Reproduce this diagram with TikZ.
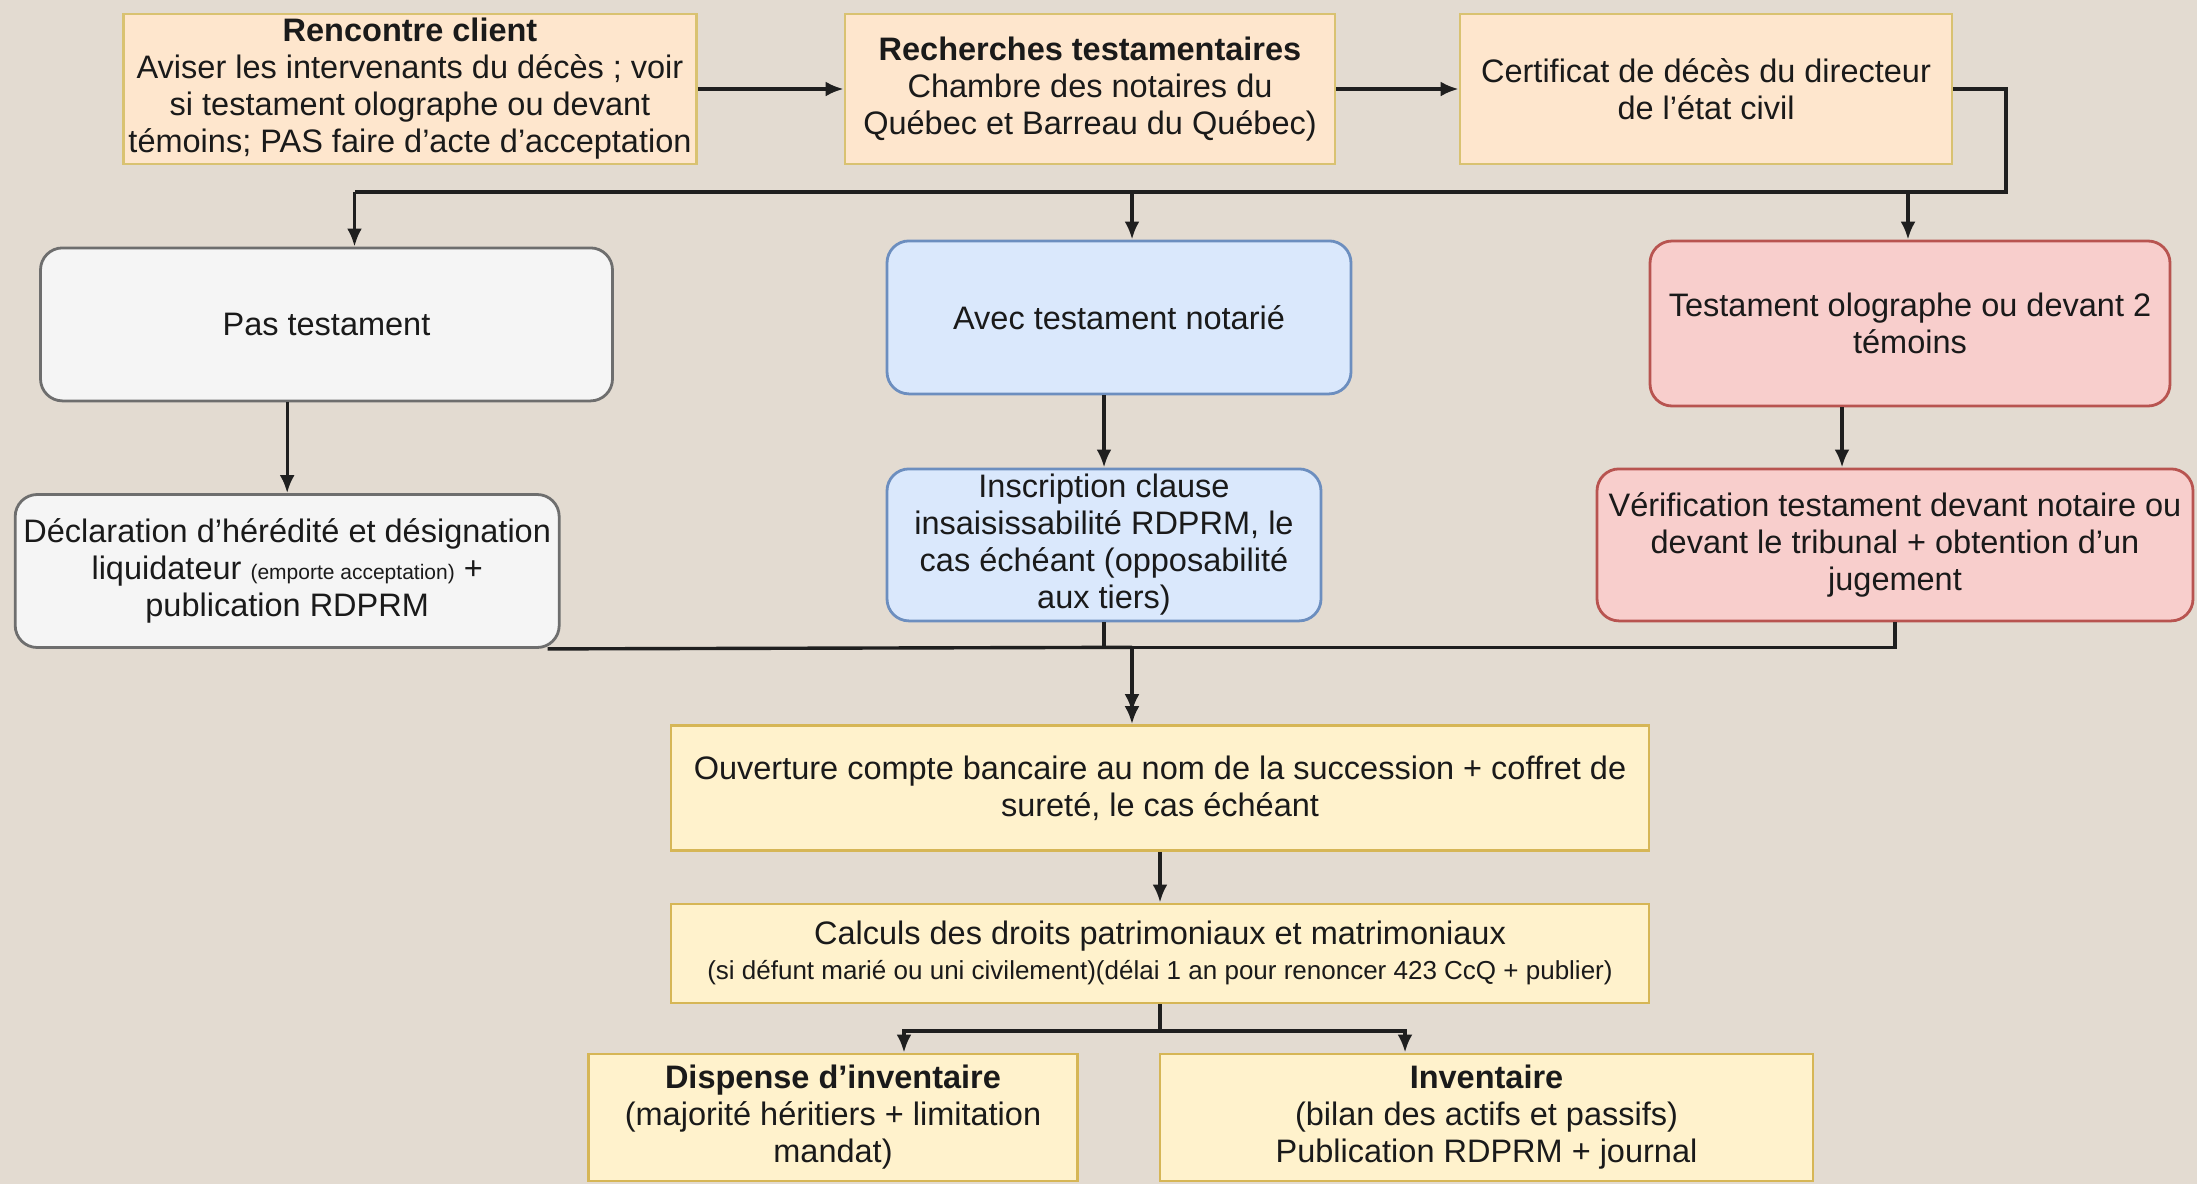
\documentclass[tikz,border=0pt]{standalone}
\usepackage{fontspec}
\setmainfont{Liberation Sans}
\usetikzlibrary{arrows.meta,calc}
\definecolor{bgc}{HTML}{E3DBD1}
\definecolor{peachf}{HTML}{FEE6CD}
\definecolor{peachd}{HTML}{D9C271}
\definecolor{greyf}{HTML}{F5F5F5}
\definecolor{greyd}{HTML}{6E6E6E}
\definecolor{bluef}{HTML}{DAE8FC}
\definecolor{blued}{HTML}{6C8EBF}
\definecolor{redf}{HTML}{F8CECC}
\definecolor{redd}{HTML}{B85450}
\definecolor{yelf}{HTML}{FFF2CC}
\definecolor{yeld}{HTML}{D6B656}
\definecolor{txt}{HTML}{1A1A1A}
\begin{document}
\begin{tikzpicture}[x=1pt,y=-1pt,
  base/.style={line width=2.8pt, align=center, inner sep=0pt, text=txt,
    font=\fontsize{32.5}{37}\selectfont},
  topbox/.style={base, draw=peachd, fill=peachf},
  greybox/.style={base, draw=greyd, fill=greyf, rounded corners=22pt},
  bluebox/.style={base, draw=blued, fill=bluef, rounded corners=22pt},
  redbox/.style={base, draw=redd, fill=redf, rounded corners=22pt},
  yelbox/.style={base, draw=yeld, fill=yelf},
  conn/.style={line width=3.4pt, draw=black!88},
  arr/.style={conn, -{Latex[length=18pt,width=15pt]}}
]
\fill[bgc] (0,0) rectangle (2197,1184);
\useasboundingbox (0,0) rectangle (2197,1184);

% top row
\node[topbox, minimum width=573pt, minimum height=150pt] (b1) at (410,89)
  {\textbf{Rencontre client}\\Aviser les intervenants du décès ; voir\\si testament olographe ou devant\\témoins; PAS faire d'acte d'acceptation};
\node[topbox, minimum width=490pt, minimum height=150pt] (b2) at (1090,89)
  {\textbf{Recherches testamentaires}\\Chambre des notaires du\\Québec et Barreau du Québec)};
\node[topbox, minimum width=492pt, minimum height=150pt] (b3) at (1706,89)
  {Certificat de décès du directeur\\de l'état civil};

% second row
\node[greybox, minimum width=572pt, minimum height=153pt] (pas) at (326.5,324.4) {Pas testament};
\node[bluebox, minimum width=464pt, minimum height=153pt] (avec) at (1119,317.4) {Avec testament notarié};
\node[redbox, minimum width=520pt, minimum height=165pt] (test) at (1910,323.5)
  {Testament olographe ou devant 2\\témoins};

% third row
\node[greybox, minimum width=544pt, minimum height=153pt] (decl) at (287.2,571)
  {Déclaration d'hérédité et désignation\\liquidateur {\fontsize{21}{24}\selectfont (emporte acceptation)} +\\publication RDPRM};
\node[bluebox, minimum width=434pt, minimum height=152pt] (inscr) at (1104,544.9)
  {Inscription clause\\insaisissabilité RDPRM, le\\cas échéant (opposabilité\\aux tiers)};
\node[redbox, minimum width=596pt, minimum height=152pt] (verif) at (1895,544.9)
  {Vérification testament devant notaire ou\\devant le tribunal + obtention d'un\\jugement};

% lower part
\node[yelbox, minimum width=978pt, minimum height=125pt] (ouv) at (1160,788)
  {Ouverture compte bancaire au nom de la succession + coffret de\\sureté, le cas échéant};
\node[yelbox, minimum width=978pt, minimum height=99pt] (calc) at (1160,953.4)
  {Calculs des droits patrimoniaux et matrimoniaux\\[-2pt]{\fontsize{26}{28}\selectfont (si défunt marié ou uni civilement)(délai 1 an pour renoncer 423 CcQ + publier)}};
\node[yelbox, minimum width=489pt, minimum height=127pt] (disp) at (833,1117.4)
  {\textbf{Dispense d'inventaire}\\(majorité héritiers + limitation\\mandat)};
\node[yelbox, minimum width=653pt, minimum height=127pt] (inv) at (1486.5,1117.4)
  {\textbf{Inventaire}\\(bilan des actifs et passifs)\\Publication RDPRM + journal};

% coordinates for connector routing
\coordinate (r1) at (2006,192);
\coordinate (bl) at (354.5,192);
\coordinate (bm) at (1132,192);
\coordinate (br) at (1908,192);
\coordinate (vx) at (1842,0);
\coordinate (mx) at (1132,647.3);
\coordinate (sl) at (904,1031);
\coordinate (sr) at (1405,1031);

% top row arrows
\draw[arr] (b1.east) -- (b2.west);
\draw[arr] (b2.east) -- (b3.west);
\draw[conn] (b3.east) -| (r1) -- (bl);
\draw[arr] (bl) -- (bl |- pas.north);
\draw[arr] (bm) -- (bm |- avec.north);
\draw[arr] (br) -- (br |- test.north);

% vertical arrows
\draw[arr] (decl.north |- pas.south) -- (decl.north);
\draw[arr] (inscr.north |- avec.south) -- (inscr.north);
\draw[arr] (test.south -| vx) -- (verif.north -| vx);

% merge to ouverture
\draw[conn] ($(decl.south east)+(-13,0)$) -- (mx);
\draw[arr] (inscr.south) -- (inscr.south |- mx) -- (mx) -- ($(ouv.north -| mx)+(0,-12)$);
\draw[arr] (verif.south) -- (verif.south |- mx) -- (mx) -- (ouv.north -| mx);

\draw[arr] (ouv.south) -- (calc.north);

% split
\draw[conn] (calc.south) -- (calc.south |- sl);
\draw[arr] (calc.south |- sl) -- (sl) -- (sl |- disp.north);
\draw[arr] (calc.south |- sr) -- (sr) -- (sr |- inv.north);
\end{tikzpicture}
\end{document}
